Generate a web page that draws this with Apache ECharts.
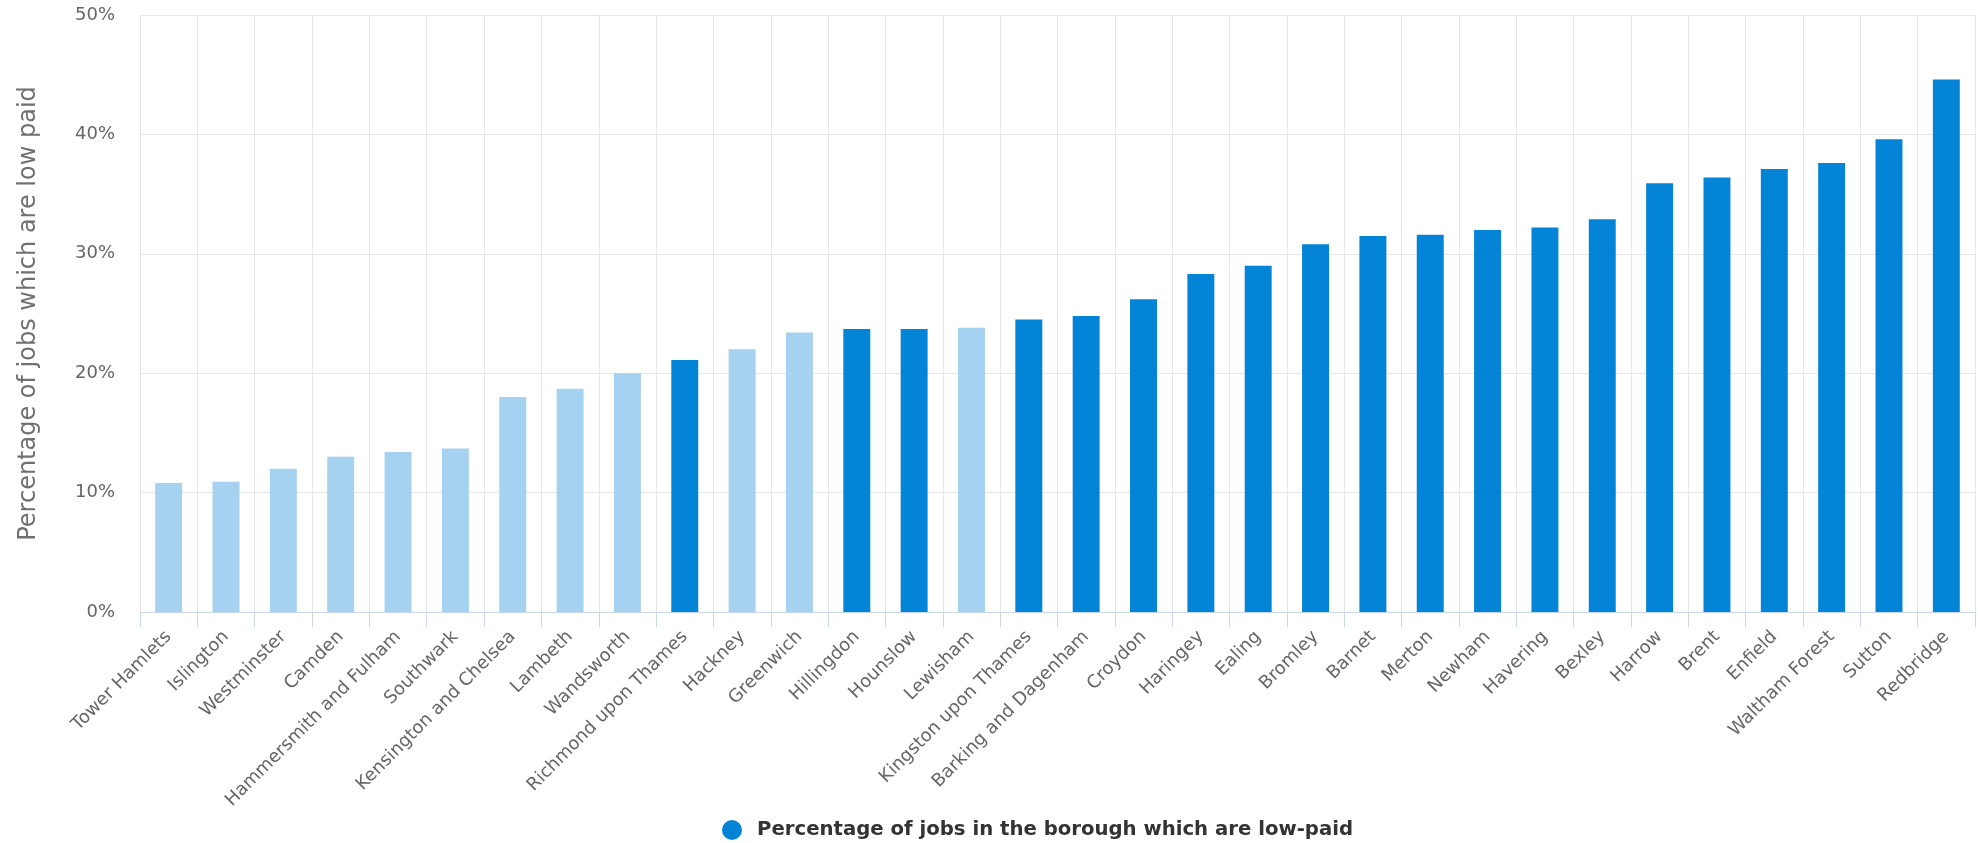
<!DOCTYPE html>
<html>
<head>
<meta charset="utf-8">
<script src="https://cdn.jsdelivr.net/npm/echarts@6/dist/echarts.min.js"></script>
<style>
html,body{margin:0;padding:0;background:#fff;}
#chart{width:1978px;height:843px;}
</style>
</head>
<body>
<div id="chart"></div>
<script>
const categories = ["Tower Hamlets","Islington","Westminster","Camden","Hammersmith and Fulham","Southwark","Kensington and Chelsea","Lambeth","Wandsworth","Richmond upon Thames","Hackney","Greenwich","Hillingdon","Hounslow","Lewisham","Kingston upon Thames","Barking and Dagenham","Croydon","Haringey","Ealing","Bromley","Barnet","Merton","Newham","Havering","Bexley","Harrow","Brent","Enfield","Waltham Forest","Sutton","Redbridge"];
const values = [10.8,10.9,12.0,13.0,13.4,13.7,18.0,18.7,20.0,21.1,22.0,23.4,23.7,23.7,23.8,24.5,24.8,26.2,28.3,29.0,30.8,31.5,31.6,32.0,32.2,32.9,35.9,36.4,37.1,37.6,39.6,44.6];
const inner = [1,1,1,1,1,1,1,1,1,0,1,1,0,0,1,0,0,0,0,0,0,0,0,0,0,0,0,0,0,0,0,0];
const yTicks = [0,10,20,30,40,50];
const seriesName = "Percentage of jobs in the borough which are low-paid";
const yAxisTitle = "Percentage of jobs which are low paid";

const DARK = '#0384d7';
const LIGHT = '#a5d2f0';
const FONT = 'DejaVu Sans';

const chart = echarts.init(document.getElementById('chart'), null, {renderer:'canvas'});
chart.setOption({
  animation:false,
  backgroundColor:'#ffffff',
  textStyle:{fontFamily:FONT},
  grid:{left:140,right:3,top:15,bottom:231,containLabel:false},
  legend:{
    left:722, top:820, padding:0,
    icon:'circle', itemWidth:20, itemHeight:20,
    textStyle:{fontFamily:FONT,fontWeight:'bold',fontSize:19.7,color:'#333333',padding:[0,0,0,10]},
    data:[seriesName]
  },
  xAxis:{
    type:'category',
    data:categories,
    boundaryGap:true,
    axisLine:{show:true,lineStyle:{color:'#ccd6eb',width:1}},
    axisTick:{show:true,length:15,alignWithLabel:false,lineStyle:{color:'#ccd6eb'}},
    splitLine:{show:true,lineStyle:{color:'#e6e6e6',width:1}},
    axisLabel:{interval:0,rotate:45,margin:22,fontSize:18,color:'#666666',fontFamily:FONT}
  },
  yAxis:{
    type:'value',
    min:yTicks[0], max:yTicks[yTicks.length-1], interval:10,
    name:yAxisTitle,
    nameLocation:'middle',
    nameGap:99,
    nameTextStyle:{fontSize:24,color:'#707070',fontFamily:FONT},
    axisLine:{show:false},
    axisTick:{show:false},
    splitLine:{show:true,lineStyle:{color:'#e6e6e6',width:1}},
    axisLabel:{formatter:'{value}%',fontSize:18,color:'#666666',margin:25,fontFamily:FONT}
  },
  series:[{
    name:seriesName,
    type:'bar',
    barWidth:'47%',
    itemStyle:{color:DARK},
    data:values.map((v,i)=>({value:v,itemStyle:{color:inner[i]?LIGHT:DARK}}))
  }]
});
</script>
</body>
</html>
